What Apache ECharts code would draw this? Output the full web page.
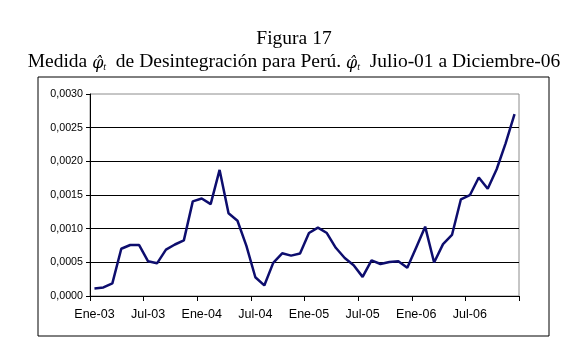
<!DOCTYPE html>
<html>
<head>
<meta charset="utf-8">
<script src="https://cdn.jsdelivr.net/npm/echarts@6/dist/echarts.min.js"></script>
<style>
html,body{margin:0;padding:0;background:#fff;}
#chart{width:588px;height:350px;}
</style>
</head>
<body>
<div id="chart"></div>
<script>
var categories = [
  'Ene-03','Feb-03','Mar-03','Abr-03','May-03','Jun-03','Jul-03','Ago-03','Sep-03','Oct-03','Nov-03','Dic-03',
  'Ene-04','Feb-04','Mar-04','Abr-04','May-04','Jun-04','Jul-04','Ago-04','Sep-04','Oct-04','Nov-04','Dic-04',
  'Ene-05','Feb-05','Mar-05','Abr-05','May-05','Jun-05','Jul-05','Ago-05','Sep-05','Oct-05','Nov-05','Dic-05',
  'Ene-06','Feb-06','Mar-06','Abr-06','May-06','Jun-06','Jul-06','Ago-06','Sep-06','Oct-06','Nov-06','Dic-06'
];
var phiValues = [
  0.000113, 0.000127, 0.000188, 0.000702, 0.000757, 0.000757, 0.000515, 0.000485, 0.000688, 0.000765, 0.000826, 0.001405,
  0.001448, 0.001365, 0.001873, 0.001228, 0.001118, 0.000745, 0.000278, 0.000157, 0.000492, 0.000634, 0.000600, 0.000630,
  0.000935, 0.001015, 0.000935, 0.000716, 0.000564, 0.000458, 0.000284, 0.000530, 0.000475, 0.000505, 0.000515, 0.000418,
  0.000722, 0.001030, 0.000497, 0.000770, 0.000906, 0.001436, 0.001497, 0.001760, 0.001592, 0.001882, 0.002267, 0.002700
];
var yTicks = { min: 0, max: 0.003, interval: 0.0005 };
var titleLine1 = 'Figura 17';

var chart = echarts.init(document.getElementById('chart'), null, {renderer: 'canvas'});
var serif = '"Liberation Serif", "Times New Roman", serif';
var phiFont = '"DejaVu Serif", "Liberation Serif", serif';
var sans = '"Liberation Sans", Arial, sans-serif';
chart.setOption({
  animation: false,
  backgroundColor: '#ffffff',
  title: [
    {
      text: titleLine1,
      left: 'center', top: 24,
      textStyle: { fontFamily: serif, fontSize: 19.5, fontWeight: 'normal', color: '#000' }
    },
    {
      text: '{n|Medida }{p|φ\u0302}{s|t}{n|  de Desintegración para Perú. }{p|φ\u0302}{s|t}{n|  Julio-01 a Diciembre-06}',
      left: 'center', top: 41,
      textStyle: {
        fontFamily: serif, fontSize: 19.5, fontWeight: 'normal', color: '#000',
        rich: {
          n: { fontFamily: serif, fontSize: 19.5, color: '#000', lineHeight: 26, verticalAlign: 'bottom' },
          p: { fontFamily: phiFont, fontSize: 16, fontStyle: 'italic', color: '#000', lineHeight: 25, verticalAlign: 'bottom' },
          s: { fontFamily: serif, fontSize: 10, fontStyle: 'italic', color: '#000', lineHeight: 10, verticalAlign: 'bottom' }
        }
      }
    }
  ],
  graphic: [
    {
      type: 'rect', silent: true, z: -1,
      shape: { x: 38, y: 77, width: 511, height: 259 },
      style: { fill: 'none', stroke: '#000', lineWidth: 1 }
    }
  ],
  grid: {
    left: 90, top: 94, right: 69, bottom: 54,
    show: true, borderColor: '#8c8c8c', borderWidth: 1, backgroundColor: '#fff'
  },
  xAxis: {
    type: 'category',
    data: categories,
    boundaryGap: true,
    axisLine: { show: true, lineStyle: { color: '#000', width: 1 } },
    axisTick: { show: true, interval: 5, alignWithLabel: false, length: 5, inside: false, lineStyle: { color: '#000' } },
    axisLabel: { interval: 5, margin: 12, fontFamily: sans, fontSize: 12.5, color: '#000' },
    splitLine: { show: false }
  },
  yAxis: {
    type: 'value',
    min: yTicks.min, max: yTicks.max, interval: yTicks.interval,
    axisLine: { show: true, lineStyle: { color: '#000', width: 1 } },
    axisTick: { show: true, length: 4, lineStyle: { color: '#000' } },
    axisLabel: {
      margin: 7, fontFamily: sans, fontSize: 10.7, color: '#000',
      formatter: function (v) { return v.toFixed(4).replace('.', ','); }
    },
    splitLine: { show: true, showMaxLine: false, lineStyle: { color: '#000', width: 1 } }
  },
  series: [
    {
      type: 'line',
      data: phiValues,
      showSymbol: false,
      symbol: 'none',
      lineStyle: { color: '#0d0d6e', width: 2.5 },
      itemStyle: { color: '#0d0d6e' }
    }
  ]
});
</script>
</body>
</html>
